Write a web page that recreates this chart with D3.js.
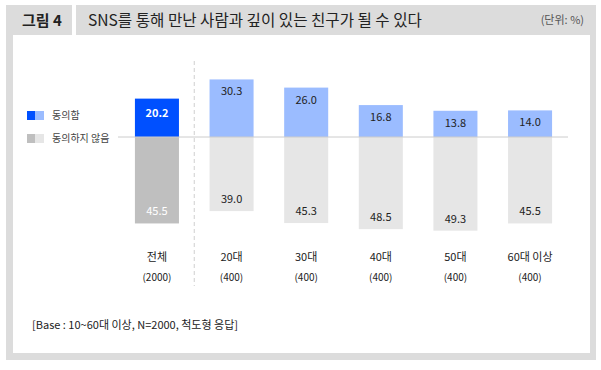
<!DOCTYPE html>
<html>
<head>
<meta charset="utf-8">
<script src="https://cdn.jsdelivr.net/npm/d3@7"></script>
<style>
  body { margin: 0; background: #fff; }
  text { font-family: "Noto Sans CJK KR", "Noto Sans", sans-serif; }
</style>
</head>
<body>
<script>
const categories = ["전체", "20대", "30대", "40대", "50대", "60대 이상"];
const sampleSizes = ["(2000)", "(400)", "(400)", "(400)", "(400)", "(400)"];
const agree = [20.2, 30.3, 26.0, 16.8, 13.8, 14.0];
const disagree = [45.5, 39.0, 45.3, 48.5, 49.3, 45.5];
const legendLabels = ["동의함", "동의하지 않음"];

const width = 601;
const height = 370;

const svg = d3.select("body")
  .append("svg")
  .attr("width", width)
  .attr("height", height);

// frame
svg.append("rect").attr("x", 6).attr("y", 5).attr("width", 590).attr("height", 355).attr("fill", "#dcdcdc");
svg.append("rect").attr("x", 13).attr("y", 35).attr("width", 577).attr("height", 318).attr("fill", "#fff");
svg.append("rect").attr("x", 72).attr("y", 5).attr("width", 4).attr("height", 30).attr("fill", "#fff");

svg.append("text")
  .attr("x", 22).attr("y", 26)
  .attr("font-size", 15).attr("font-weight", "bold").attr("fill", "#222")
  .text("그림 4");
svg.append("text")
  .attr("x", 88).attr("y", 26)
  .attr("font-size", 15.6).attr("fill", "#222")
  .text("SNS를 통해 만난 사람과 깊이 있는 친구가 될 수 있다");
svg.append("text")
  .attr("x", 584).attr("y", 24)
  .attr("text-anchor", "end")
  .attr("font-size", 11).attr("fill", "#555")
  .text("(단위: %)");

// scales
const x = d3.scaleBand()
  .domain(categories)
  .range([120, 567])
  .paddingInner(0.41)
  .paddingOuter(0.2);

const baseY = 137;
const y = d3.scaleLinear().domain([-50, 50]).range([baseY + 95, baseY - 95]);

const barColors = (i) => i === 0 ? ["#0050ff", "#bfbfbf"] : ["#9bbcff", "#e6e6e6"];

// separator between total and age groups
const sepX = (x(categories[0]) + x.bandwidth() + x(categories[1])) / 2;
svg.append("line")
  .attr("x1", sepX).attr("x2", sepX)
  .attr("y1", 61).attr("y2", 286)
  .attr("stroke", "#cfcfcf")
  .attr("stroke-dasharray", "4,3");

// bars
const g = svg.append("g");
g.selectAll(".agree")
  .data(agree)
  .enter()
  .append("rect")
  .attr("class", "agree")
  .attr("x", (d, i) => x(categories[i]))
  .attr("y", (d) => y(d))
  .attr("width", x.bandwidth())
  .attr("height", (d) => y(0) - y(d))
  .attr("fill", (d, i) => barColors(i)[0]);

g.selectAll(".disagree")
  .data(disagree)
  .enter()
  .append("rect")
  .attr("class", "disagree")
  .attr("x", (d, i) => x(categories[i]))
  .attr("y", y(0))
  .attr("width", x.bandwidth())
  .attr("height", (d) => y(-d) - y(0))
  .attr("fill", (d, i) => barColors(i)[1]);

// baseline
svg.append("line")
  .attr("x1", 118).attr("x2", 568)
  .attr("y1", baseY).attr("y2", baseY)
  .attr("stroke", "#cccccc");

// value labels
g.selectAll(".agree-label")
  .data(agree)
  .enter()
  .append("text")
  .attr("x", (d, i) => x(categories[i]) + x.bandwidth() / 2)
  .attr("y", (d, i) => y(d) + (i === 0 ? 18 : 16))
  .attr("text-anchor", "middle")
  .attr("font-size", 11)
  .attr("font-weight", (d, i) => i === 0 ? "bold" : "normal")
  .attr("fill", (d, i) => i === 0 ? "#fff" : "#222")
  .text((d) => d.toFixed(1));

g.selectAll(".disagree-label")
  .data(disagree)
  .enter()
  .append("text")
  .attr("x", (d, i) => x(categories[i]) + x.bandwidth() / 2)
  .attr("y", (d) => y(-d) - 8)
  .attr("text-anchor", "middle")
  .attr("font-size", 11)
  .attr("fill", (d, i) => i === 0 ? "#fff" : "#222")
  .text((d) => d.toFixed(1));

// category axis labels
g.selectAll(".cat")
  .data(categories)
  .enter()
  .append("text")
  .attr("x", (d) => x(d) + x.bandwidth() / 2)
  .attr("y", 261)
  .attr("text-anchor", "middle")
  .attr("font-size", 11)
  .attr("fill", "#222")
  .text((d) => d);

g.selectAll(".n")
  .data(sampleSizes)
  .enter()
  .append("text")
  .attr("x", (d, i) => x(categories[i]) + x.bandwidth() / 2)
  .attr("y", 281)
  .attr("text-anchor", "middle")
  .attr("font-size", 10)
  .attr("fill", "#222")
  .text((d) => d);

// legend
const legend = svg.append("g");
legendLabels.forEach((label, i) => {
  const ly = 111 + i * 23;
  const cols = i === 0 ? ["#0050ff", "#9bbcff"] : ["#bfbfbf", "#e6e6e6"];
  legend.append("rect").attr("x", 27).attr("y", ly).attr("width", 8).attr("height", 9).attr("fill", cols[0]);
  legend.append("rect").attr("x", 35).attr("y", ly).attr("width", 9).attr("height", 9).attr("fill", cols[1]);
  legend.append("text")
    .attr("x", 52).attr("y", ly + 8)
    .attr("font-size", 10).attr("fill", "#444")
    .text(label);
});

// footnote
svg.append("text")
  .attr("x", 32).attr("y", 329)
  .attr("font-size", 11).attr("fill", "#222")
  .text("[Base : 10~60대 이상, N=2000, 척도형 응답]");
</script>
</body>
</html>
